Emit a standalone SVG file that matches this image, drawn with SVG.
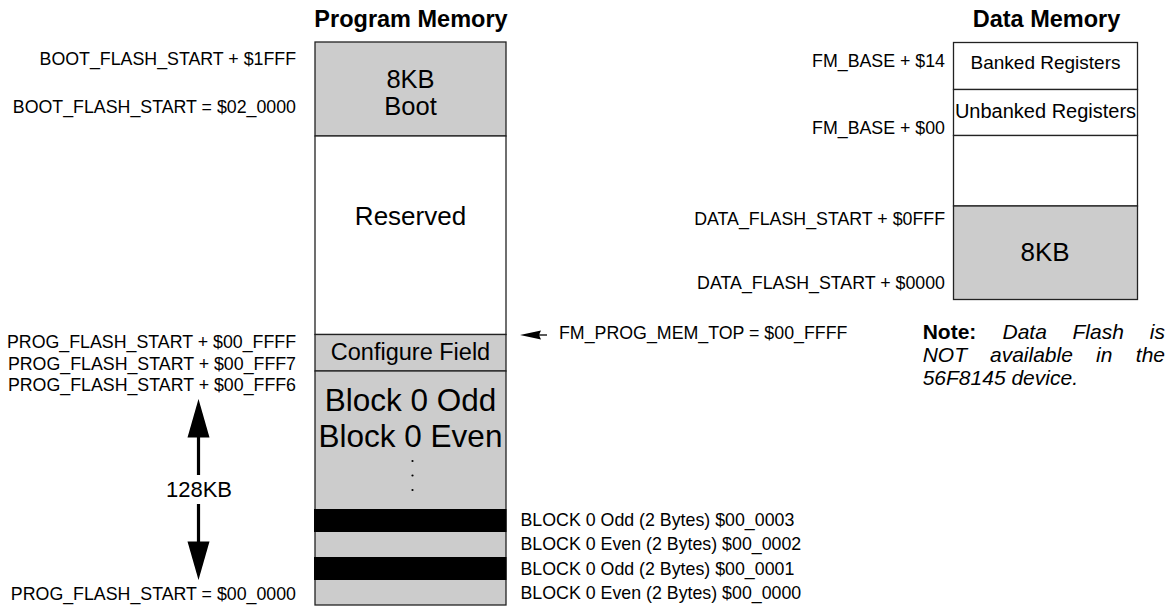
<svg xmlns="http://www.w3.org/2000/svg" width="1173" height="607" viewBox="0 0 1173 607">
<style>
text{font-family:"Liberation Sans",Arial,sans-serif;fill:#000}
.lbl{font-size:17.8px}
.r{text-anchor:end}
.c{text-anchor:middle}
.title{font-size:23.5px;font-weight:bold}
.gray{fill:#cccccc;stroke:#222;stroke-width:1.3}
.white{fill:#fff;stroke:#222;stroke-width:1.3}
.band{fill:#000}
.note{font-size:21px;font-style:italic}
</style>
<rect width="1173" height="607" fill="#fff"/>

<g id="titles">
<text class="title c" x="411" y="27">Program Memory</text>
<text class="title c" x="1046.5" y="27">Data Memory</text>
</g>

<g id="prog-memory">
<g id="boot">
<rect class="gray" x="315" y="42" width="191" height="94"/>
<text class="c" x="410.5" y="88" font-size="25.5">8KB</text>
<text class="c" x="410.5" y="115" font-size="25.5">Boot</text>
</g>
<g id="reserved">
<rect class="white" x="315" y="136" width="191" height="198.5"/>
<text class="c" x="410.5" y="225" font-size="26">Reserved</text>
</g>
<g id="configure-field">
<rect class="gray" x="315" y="334.5" width="191" height="36.5"/>
<text class="c" x="410.5" y="359.5" font-size="23.5">Configure Field</text>
</g>
<g id="block0">
<rect class="gray" x="315" y="371" width="191" height="234"/>
<text class="c" x="410.5" y="410.5" font-size="31.5">Block 0 Odd</text>
<text class="c" x="410.5" y="447" font-size="31.5">Block 0 Even</text>
<circle cx="412.5" cy="461" r="1.1"/>
<circle cx="412.5" cy="475.5" r="1.1"/>
<circle cx="412.5" cy="490" r="1.1"/>
<rect class="band" x="314" y="509" width="192.5" height="23"/>
<rect class="band" x="314" y="557" width="192.5" height="23"/>
</g>
</g>

<g id="prog-labels">
<text class="lbl r" x="296" y="64.5">BOOT_FLASH_START + $1FFF</text>
<text class="lbl r" x="296" y="113">BOOT_FLASH_START = $02_0000</text>
<text class="lbl r" x="296" y="347.5">PROG_FLASH_START + $00_FFFF</text>
<text class="lbl r" x="296" y="369.5">PROG_FLASH_START + $00_FFF7</text>
<text class="lbl r" x="296" y="391">PROG_FLASH_START + $00_FFF6</text>
<text class="lbl r" x="296" y="600">PROG_FLASH_START = $00_0000</text>
<text class="c" x="199" y="497" font-size="22">128KB</text>
<text class="lbl" x="559" y="338.5">FM_PROG_MEM_TOP = $00_FFFF</text>
<text class="lbl" x="520.5" y="526">BLOCK 0 Odd (2 Bytes) $00_0003</text>
<text class="lbl" x="520.5" y="550">BLOCK 0 Even (2 Bytes) $00_0002</text>
<text class="lbl" x="520.5" y="575">BLOCK 0 Odd (2 Bytes) $00_0001</text>
<text class="lbl" x="520.5" y="598.5">BLOCK 0 Even (2 Bytes) $00_0000</text>
</g>

<g id="data-memory">
<g id="banked">
<rect class="white" x="953.5" y="42.5" width="184" height="47"/>
<text class="c" x="1045.5" y="68.5" font-size="19">Banked Registers</text>
</g>
<g id="unbanked">
<rect class="white" x="953.5" y="89.5" width="184" height="46"/>
<text class="c" x="1045.5" y="117.5" font-size="20">Unbanked Registers</text>
</g>
<g id="data-empty">
<rect class="white" x="953.5" y="135.5" width="184" height="70.5"/>
</g>
<g id="data-flash">
<rect class="gray" x="953.5" y="206" width="184" height="93.5"/>
<text class="c" x="1045" y="260.5" font-size="26">8KB</text>
</g>
</g>

<g id="data-labels">
<text class="lbl r" x="945" y="67">FM_BASE + $14</text>
<text class="lbl r" x="945" y="133.5">FM_BASE + $00</text>
<text class="lbl r" x="945" y="225">DATA_FLASH_START + $0FFF</text>
<text class="lbl r" x="945" y="288.5">DATA_FLASH_START + $0000</text>
</g>

<g id="note">
<text class="note" y="338.5"><tspan x="922.7" font-weight="bold" font-style="normal">Note:</tspan><tspan x="1002.5">Data</tspan><tspan x="1072.5">Flash</tspan><tspan x="1165" text-anchor="end">is</tspan></text>
<text class="note" y="361.5"><tspan x="922.7">NOT</tspan><tspan x="990">available</tspan><tspan x="1096">in</tspan><tspan x="1165" text-anchor="end">the</tspan></text>
<text class="note" y="384.5"><tspan x="922.7">56F8145 device.</tspan></text>
</g>

<g id="connectors">
<polygon points="198.5,399 187.5,437.5 209.5,437.5"/>
<line x1="198.5" y1="437" x2="198.5" y2="475" stroke="#000" stroke-width="3.2"/>
<line x1="198.5" y1="504" x2="198.5" y2="542" stroke="#000" stroke-width="3.2"/>
<polygon points="187.5,541.5 209.5,541.5 198.5,580"/>
<polygon points="520,335 541,330.5 539,335 541,339.5"/>
<line x1="539" y1="335" x2="547" y2="335" stroke="#000" stroke-width="1.3"/>
</g>
</svg>
